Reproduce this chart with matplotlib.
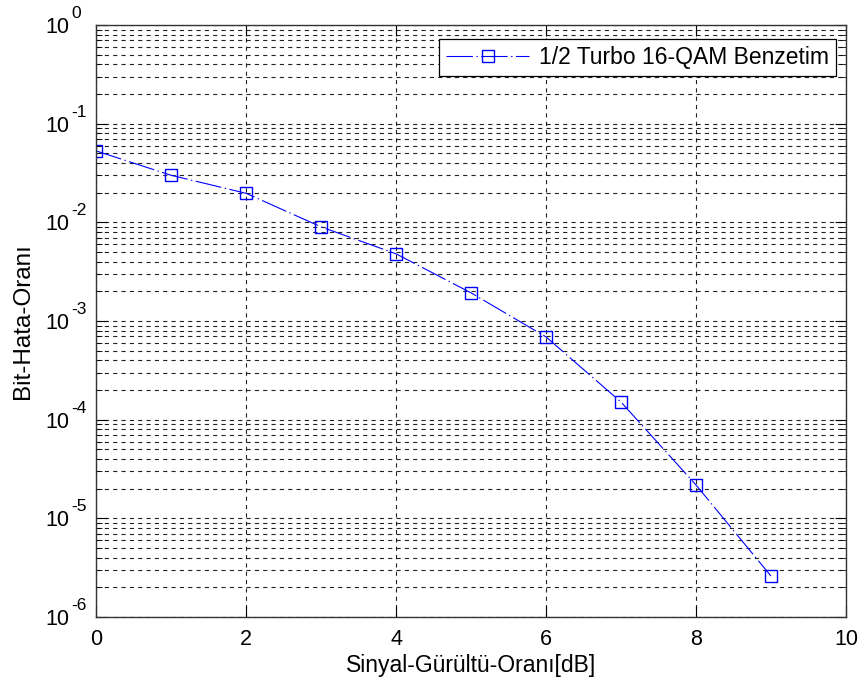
import matplotlib
matplotlib.use("Agg")
import matplotlib.pyplot as plt
import matplotlib.transforms as mtransforms
import numpy as np
from matplotlib.ticker import LogLocator, FixedLocator, NullFormatter

plt.rcParams['font.family'] = ['Liberation Sans', 'DejaVu Sans']
plt.rcParams['lines.scale_dashes'] = False

snr_db = [0, 1, 2, 3, 4, 5, 6, 7, 8, 9]
ber = [5.3e-2, 3.0e-2, 1.97e-2, 9.0e-3, 4.8e-3, 1.93e-3, 6.9e-4, 1.51e-4, 2.18e-5, 2.6e-6]
label = "1/2 Turbo 16-QAM Benzetim"
x_ticks = [0, 2, 4, 6, 8, 10]
y_exponents = [0, -1, -2, -3, -4, -5, -6]

fig = plt.figure(figsize=(8.62, 6.89), dpi=100)
ax = fig.add_axes([0.1114, 0.1045, 0.87, 0.8592])

ax.semilogy(snr_db, ber, linestyle=(0, (19, 2.5, 1, 2.5)), color='blue', linewidth=0.8,
            marker='s', markersize=9, markerfacecolor='none',
            markeredgecolor='blue', markeredgewidth=1.0, label=label)

ax.set_xlim(0, 10)
ax.set_ylim(1e-6, 1)
ax.xaxis.set_major_locator(FixedLocator(x_ticks))
ax.yaxis.set_major_locator(FixedLocator([10.0 ** e for e in y_exponents]))
ax.yaxis.set_minor_locator(LogLocator(base=10, subs=np.arange(2, 10), numticks=20))
ax.yaxis.set_major_formatter(NullFormatter())
ax.yaxis.set_minor_formatter(NullFormatter())

grid_style = dict(color='#222222', linestyle=(0, (3, 3)), linewidth=0.8)
ax.grid(True, which='major', axis='both', **grid_style)
ax.grid(True, which='minor', axis='y', **grid_style)

ax.tick_params(which='both', direction='in', top=True, right=True, labelsize=15.5)
ax.tick_params(axis='x', pad=9)
ax.tick_params(which='major', length=8)
ax.tick_params(which='minor', length=4)
for s in ax.spines.values():
    s.set_linewidth(1.0)
    s.set_color('#333333')

# MATLAB-style decade labels: "10" with a raised exponent
base_tr = mtransforms.offset_copy(ax.get_yaxis_transform(), fig=fig, x=-27, y=0, units='dots')
exp_tr = mtransforms.offset_copy(ax.get_yaxis_transform(), fig=fig, x=-25, y=13, units='dots')
for e in y_exponents:
    ax.text(0, 10.0 ** e, "10", transform=base_tr, ha='right', va='center_baseline',
            fontsize=15.5, clip_on=False)
    ax.text(0, 10.0 ** e, str(e), transform=exp_tr, ha='left', va='center_baseline',
            fontsize=12.5, clip_on=False)

ax.set_xlabel("Sinyal-Gürültü-Oranı[dB]", fontsize=16.5)
ax.set_ylabel("Bit-Hata-Oranı", fontsize=17.5)
ax.xaxis.set_label_coords(0.5, -0.0617)
ax.yaxis.set_label_coords(-0.0827, 0.5)

leg = ax.legend(loc='upper right', bbox_to_anchor=(0.9867, 0.9764), borderaxespad=0,
                fontsize=16.5, fancybox=False, framealpha=1, edgecolor='black',
                handlelength=3.6, handletextpad=0.45, borderpad=0.3)
leg.get_frame().set_linewidth(0.9)

fig.savefig("out.png", dpi=100)
